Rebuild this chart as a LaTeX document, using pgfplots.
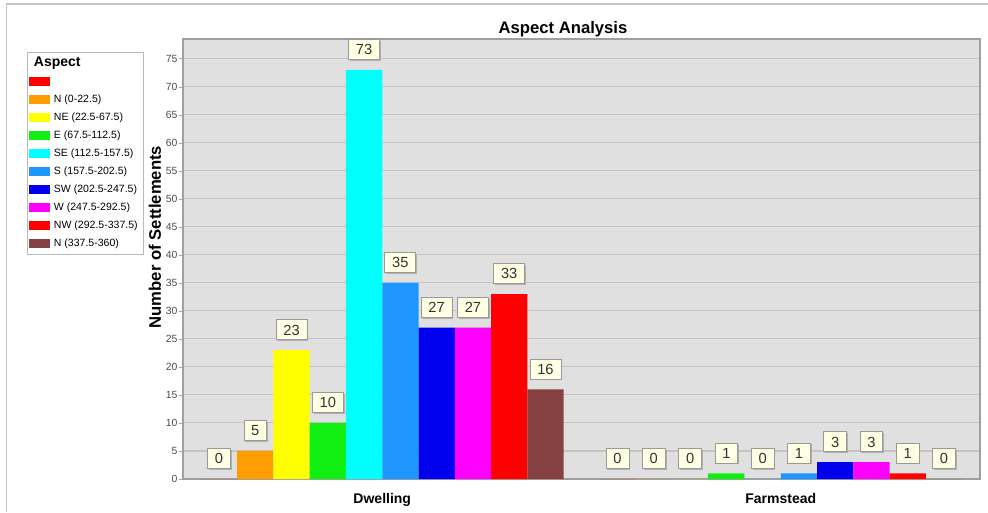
\documentclass[border=0pt]{standalone}
\usepackage{fontspec}
\setmainfont{Liberation Sans}
\usepackage{pgfplots}
\pgfplotsset{compat=1.18}
\usetikzlibrary{shadows}
\definecolor{cRed}{HTML}{FF0000}
\definecolor{cOrange}{HTML}{FF9C00}
\definecolor{cYellow}{HTML}{FFFF00}
\definecolor{cGreen}{HTML}{11EE11}
\definecolor{cCyan}{HTML}{00FFFF}
\definecolor{cS}{HTML}{1E96FF}
\definecolor{cSW}{HTML}{0000EE}
\definecolor{cW}{HTML}{FF00FF}
\definecolor{cNW}{HTML}{FF0000}
\definecolor{cBrown}{HTML}{864242}
\definecolor{plotbg}{HTML}{E0E0E0}
\definecolor{gridc}{HTML}{C4C4C4}
\definecolor{boxfill}{HTML}{FFFFE4}
\begin{document}
\begin{tikzpicture}
\useasboundingbox (0pt,0pt) rectangle (741pt,384pt);
\draw[gray!45, line width=0.8pt] (5pt,0pt) -- (5pt,381pt) -- (741pt,381pt);
\begin{axis}[
  at={(137.25pt,24.75pt)}, anchor=south west,
  scale only axis, width=597.75pt, height=330pt,
  ybar=0pt, bar width=27.2pt,
  xmin=-0.5, xmax=1.5, ymin=0, ymax=78.5,
  xtick={0,1}, xticklabels={Dwelling,Farmstead},
  x tick label style={font=\fontsize{10.5}{12}\selectfont\bfseries, yshift=-4pt},
  major x tick style={draw=none},
  ytick={0,5,...,75}, ytick pos=left,
  y tick label style={font=\fontsize{7.8}{9}\selectfont, text=black!70, inner sep=1pt},
  /pgf/number format/assume math mode=true,
  tick align=outside, major tick length=3pt,
  y tick style={gray!70},
  ymajorgrids, grid style={gridc, line width=0.8pt},
  axis background/.style={fill=plotbg},
  axis line style={gray!75, line width=0.8pt},
  ylabel={Number of Settlements},
  ylabel style={at={(axis description cs:-0.0351,0.55)}, anchor=center, font=\fontsize{12.5}{14}\selectfont\bfseries},
  title={Aspect Analysis},
  title style={at={(axis description cs:0.4768,1.0043)}, anchor=center, yshift=0pt, font=\fontsize{12.5}{14}\selectfont\bfseries},
  nodes near coords,
  every node near coord/.append style={font=\fontsize{11}{12}\selectfont, text=black!80,
     fill=boxfill, draw=gray!80, line width=0.6pt, anchor=south, yshift=7.5pt,
     inner xsep=5.5pt, inner ysep=3.5pt, text height=8pt, text depth=0pt,
     drop shadow={shadow xshift=1pt, shadow yshift=-1pt, fill=gray!70, opacity=0.8}},
  legend image code/.code={\fill[#1] (0pt,-3.4pt) rectangle (15.5pt,3.4pt);},
  legend style={at={(-0.1957,0.9705)}, anchor=north west, draw=gray!55, fill=white,
     font=\fontsize{7.9}{9}\selectfont, inner sep=1.5pt, row sep=0pt,
     nodes={inner sep=3pt, text height=6pt, text depth=1.5pt}},
  legend cell align=left,
]
\addlegendimage{empty legend}
\addlegendentry{\hspace{-15pt}\fontsize{10.5}{12}\selectfont\bfseries Aspect}
\addplot[fill=cRed, draw=none] coordinates {(0,0) (1,0)};
\addlegendentry{}
\addplot[fill=cOrange, draw=none] coordinates {(0,5) (1,0)};
\addlegendentry{N (0-22.5)}
\addplot[fill=cYellow, draw=none] coordinates {(0,23) (1,0)};
\addlegendentry{NE (22.5-67.5)}
\addplot[fill=cGreen, draw=none] coordinates {(0,10) (1,1)};
\addlegendentry{E (67.5-112.5)}
\addplot[fill=cCyan, draw=none] coordinates {(0,73) (1,0)};
\addlegendentry{SE (112.5-157.5)}
\addplot[fill=cS, draw=none] coordinates {(0,35) (1,1)};
\addlegendentry{S (157.5-202.5)}
\addplot[fill=cSW, draw=none] coordinates {(0,27) (1,3)};
\addlegendentry{SW (202.5-247.5)}
\addplot[fill=cW, draw=none] coordinates {(0,27) (1,3)};
\addlegendentry{W (247.5-292.5)}
\addplot[fill=cNW, draw=none] coordinates {(0,33) (1,1)};
\addlegendentry{NW (292.5-337.5)}
\addplot[fill=cBrown, draw=none] coordinates {(0,16) (1,0)};
\addlegendentry{N (337.5-360)}
\end{axis}
\end{tikzpicture}
\end{document}
